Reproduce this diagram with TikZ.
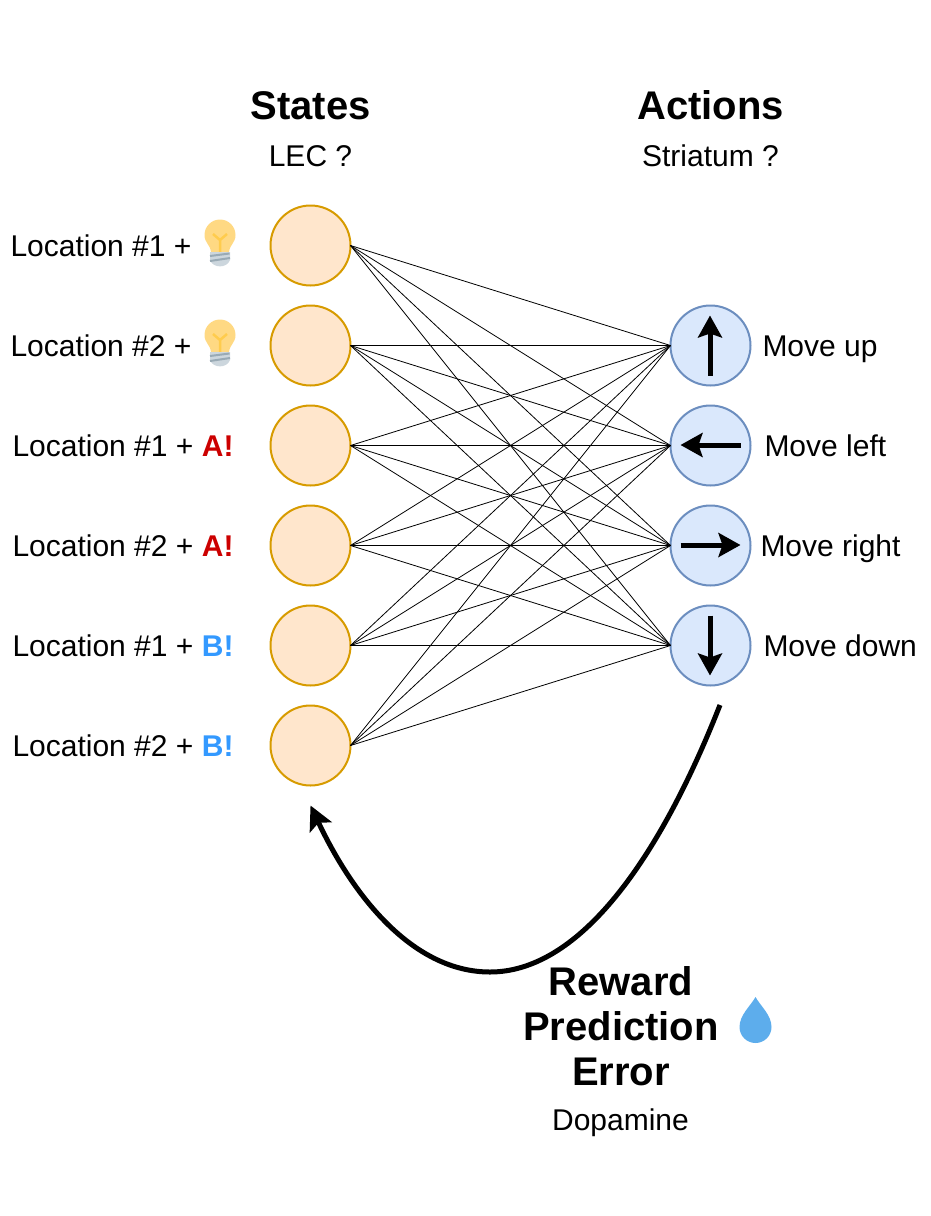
\documentclass[tikz,border=0pt]{standalone}
\usepackage{fontspec}
\setmainfont{Liberation Sans}
\usetikzlibrary{positioning,calc,arrows.meta}

\definecolor{statefill}{HTML}{FFE6CC}
\definecolor{statedraw}{HTML}{D79B00}
\definecolor{actionfill}{HTML}{DAE8FC}
\definecolor{actiondraw}{HTML}{6C8EBF}
\definecolor{cueA}{HTML}{CC0000}
\definecolor{cueB}{HTML}{3399FF}
\definecolor{bulbfill}{HTML}{FFD983}
\definecolor{bulbwire}{HTML}{FFCC4D}
\definecolor{bulbscrew}{HTML}{CCD6DD}
\definecolor{bulbthread}{HTML}{99AAB5}
\definecolor{dropfill}{HTML}{5DADEC}

\tikzset{
  state/.style={circle, draw=statedraw, fill=statefill, line width=2pt, minimum size=80pt, inner sep=0pt, outer sep=0pt},
  action/.style={circle, draw=actiondraw, fill=actionfill, line width=2pt, minimum size=80pt, inner sep=0pt, outer sep=0pt},
  lbl/.style={font=\fontsize{30}{34}\selectfont, inner sep=0pt, outer sep=0pt, text height=22pt, text depth=0pt},
  head/.style={font=\fontsize{40}{45}\selectfont\bfseries, inner sep=0pt, outer sep=0pt, text height=29pt, text depth=8pt},
  dir/.style={line width=5pt, -{Stealth[length=22pt, width=24pt, inset=4pt]}},
  bulb/.pic={
    \fill[bulbfill] (-9,-17) .. controls (-10,-9) and (-15.5,-8) .. (-15.5,0) arc (180:0:15.5) .. controls (15.5,-8) and (10,-9) .. (9,-17) -- cycle;
    \draw[line width=2.5pt, draw=bulbwire] (0,-17) -- (0,-5) -- (-7,1) (0,-5) -- (7,1);
    \fill[bulbscrew] (-10,-17) -- (10,-17) -- (10,-25) .. controls (7,-33.5) and (-7,-33.5) .. (-10,-25) -- cycle;
    \draw[line width=2pt, draw=bulbthread] (-10,-21) -- (9.5,-18.5) (-10,-26) -- (10,-23);
  },
  droplet/.pic={
    \fill[dropfill] (0,0) .. controls (5,-9) and (16,-18) .. (16,-30) arc (0:-180:16) .. controls (-16,-18) and (-5,-9) .. cycle;
  },
}

\begin{document}
\begin{tikzpicture}[x=1pt, y=1pt, node distance=20pt]
    \useasboundingbox (0,0) rectangle (931,-1216);

    % States column
    \node (state1) [state] at (310.5,-245.5) {};
    \node (state2) [state, below=of state1] {};
    \node (state3) [state, below=of state2] {};
    \node (state4) [state, below=of state3] {};
    \node (state5) [state, below=of state4] {};
    \node (state6) [state, below=of state5] {};

    % Actions column
    \node (action1) [action] at (710.5,-345.5) {};
    \node (action2) [action, below=of action1] {};
    \node (action3) [action, below=of action2] {};
    \node (action4) [action, below=of action3] {};

    % Every state projects to every action
    \foreach \s in {1,...,6}
      \foreach \a in {1,...,4}
        \draw[line width=0.8pt] (state\s.east) -- (action\a.west);

    % Headers
    \node (lec) [lbl, above=39pt of state1] {LEC ?};
    \node (states) [head, above=17.5pt of lec] {States};
    \node (striatum) [lbl] at (lec -| action1) {Striatum ?};
    \node (actions) [head] at (states -| action1) {Actions};

    % State labels
    \node (label1) [lbl, left=79pt of state1] {Location \#1 +};
    \node (label2) [lbl, left=79pt of state2] {Location \#2 +};
    \node (label3) [lbl, left=37pt of state3] {Location \#1 + \textcolor{cueA}{\textbf{A!}}};
    \node (label4) [lbl, left=37pt of state4] {Location \#2 + \textcolor{cueA}{\textbf{A!}}};
    \node (label5) [lbl, left=37pt of state5] {Location \#1 + \textcolor{cueB}{\textbf{B!}}};
    \node (label6) [lbl, left=37pt of state6] {Location \#2 + \textcolor{cueB}{\textbf{B!}}};

    % Light bulbs
    \pic at ($(state1)+(-90.5,10.5)$) {bulb};
    \pic at ($(state2)+(-90.5,10.5)$) {bulb};

    % Action labels
    \node (move1) [lbl, right=12pt of action1] {Move up};
    \node (move2) [lbl, right=14pt of action2] {Move left};
    \node (move3) [lbl, right=10pt of action3] {Move right};
    \node (move4) [lbl, right=13pt of action4] {Move down};

    % Arrows inside the action circles
    \draw[dir] ($(action1)+(-0.5,-30)$) -- ($(action1)+(-0.5,30)$);
    \draw[dir] ($(action2)+(30,0.5)$) -- ($(action2)+(-30,0.5)$);
    \draw[dir] ($(action3)+(-30,0.5)$) -- ($(action3)+(30,0.5)$);
    \draw[dir] ($(action4)+(-0.5,30)$) -- ($(action4)+(-0.5,-30)$);

    % Reward prediction error
    \node (rpe) [font=\fontsize{40}{45}\selectfont\bfseries, align=center, inner sep=0pt] at (621,-1026) {Reward\\Prediction\\Error};
    \node (dopamine) [lbl] at (620.5,-1119.5) {Dopamine};
    \pic at (755.5,-997) {droplet};

    % Feedback arrow
    \coordinate (fbstart) at (720,-705);
    \coordinate (fbmid) at (490,-972);
    \coordinate (fbend) at (310.5,-805.5);
    \draw[line width=5pt, -{Stealth[length=24pt, width=24pt, inset=5pt]}]
        (fbstart) .. controls (655,-870) and (575,-972) .. (fbmid)
        .. controls (415,-972) and (355,-900) .. (fbend);
\end{tikzpicture}
\end{document}
